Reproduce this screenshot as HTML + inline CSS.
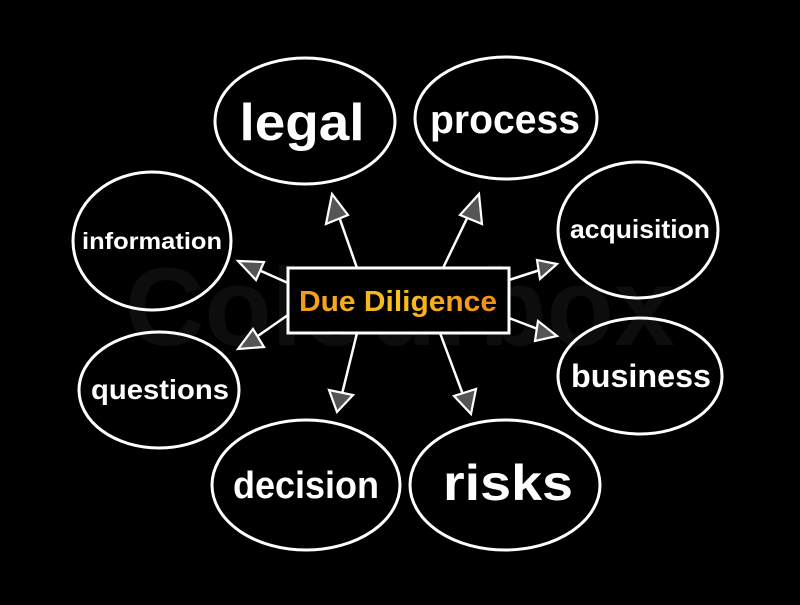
<!DOCTYPE html>
<html><head><meta charset="utf-8"><style>
html,body{margin:0;padding:0;background:#000;}
svg{display:block}
text{font-family:"Liberation Sans",sans-serif;font-weight:bold;fill:#fff;text-anchor:middle}
</style></head><body>
<svg width="800" height="605" viewBox="0 0 800 605" xmlns="http://www.w3.org/2000/svg">
<defs>
<linearGradient id="g" x1="0" x2="1"><stop offset="0" stop-color="#f39a1c"/><stop offset="0.5" stop-color="#f7c11e"/><stop offset="1" stop-color="#f28a1a"/></linearGradient>
</defs>
<rect width="800" height="605" fill="#000"/>
<text x="400" y="345" font-size="110" style="fill:#0d0d0d">Colourbox</text>
<g fill="none" stroke="#fff" stroke-width="3">
<ellipse cx="305" cy="121" rx="90" ry="63"/>
<ellipse cx="506" cy="118" rx="91" ry="61"/>
<ellipse cx="152" cy="241" rx="79" ry="69"/>
<ellipse cx="638" cy="230" rx="80" ry="68"/>
<ellipse cx="159" cy="390" rx="80" ry="58"/>
<ellipse cx="640" cy="376" rx="82" ry="58"/>
<ellipse cx="306" cy="485" rx="94" ry="65"/>
<ellipse cx="505" cy="485" rx="95" ry="65"/>
<rect x="288" y="268" width="221" height="65" fill="#000"/>
</g>
<g stroke="#fff" stroke-width="2.5" fill="none">
<line x1="357" y1="268" x2="336" y2="208"/>
<line x1="443" y1="268" x2="472" y2="208"/>
<line x1="288" y1="283" x2="252" y2="267"/>
<line x1="288" y1="315" x2="252" y2="340"/>
<line x1="509" y1="280" x2="543" y2="269"/>
<line x1="509" y1="318" x2="543" y2="331"/>
<line x1="357" y1="333" x2="341" y2="398"/>
<line x1="440" y1="333" x2="465" y2="400"/>
</g>
<g fill="#555" stroke="#fff" stroke-width="2.2">
<polygon points="332,194 326,224 348,215"/>
<polygon points="479,194 460,215 482,224"/>
<polygon points="238,261 256,280 264,262"/>
<polygon points="238,349 264,347 253,329"/>
<polygon points="557,264 537,260 540,279"/>
<polygon points="557,336 538,321 535,341"/>
<polygon points="337,412 329,390 353,395"/>
<polygon points="471,414 454,396 476,389"/>
</g>
<text x="302" y="140" font-size="52" textLength="125" lengthAdjust="spacingAndGlyphs">legal</text>
<text x="505" y="133" font-size="40" textLength="150" lengthAdjust="spacingAndGlyphs">process</text>
<text x="152" y="249" font-size="23" textLength="140" lengthAdjust="spacingAndGlyphs">information</text>
<text x="640" y="238" font-size="26" textLength="140" lengthAdjust="spacingAndGlyphs">acquisition</text>
<text x="160" y="399" font-size="28" textLength="138" lengthAdjust="spacingAndGlyphs">questions</text>
<text x="641" y="387" font-size="32" textLength="140" lengthAdjust="spacingAndGlyphs">business</text>
<text x="306" y="498" font-size="38" textLength="146" lengthAdjust="spacingAndGlyphs">decision</text>
<text x="508" y="500" font-size="50" textLength="130" lengthAdjust="spacingAndGlyphs">risks</text>
<text x="398" y="311" font-size="29" style="fill:url(#g)" textLength="198" lengthAdjust="spacingAndGlyphs">Due Diligence</text>
</svg>
</body></html>
